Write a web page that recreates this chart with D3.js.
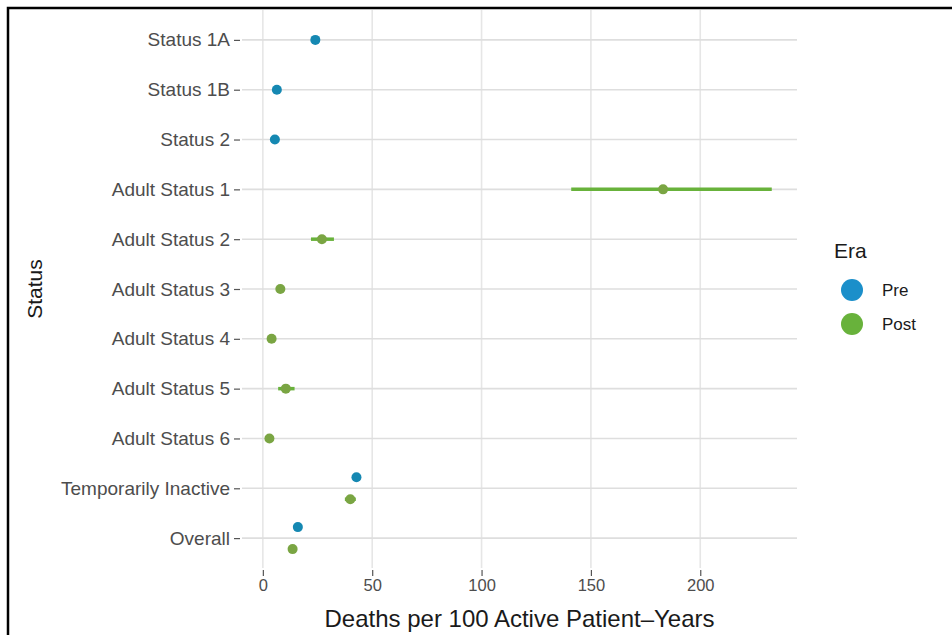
<!DOCTYPE html>
<html>
<head>
<meta charset="utf-8">
<script src="https://cdn.jsdelivr.net/npm/d3@7"></script>
<style>
  body { margin: 0; background: #fff; }
  text { font-family: "Liberation Sans", "DejaVu Sans", sans-serif; }
</style>
</head>
<body>
<svg id="chart" width="952" height="635"></svg>
<script>
// categories, top to bottom
var statuses = ["Status 1A", "Status 1B", "Status 2", "Adult Status 1", "Adult Status 2",
  "Adult Status 3", "Adult Status 4", "Adult Status 5", "Adult Status 6",
  "Temporarily Inactive", "Overall"];
var eras = ["Pre", "Post"];
var eraColors = ["#1b8fca", "#68b23b"];

// Pre era: status, rate, lower, upper
var preStatus = ["Status 1A", "Status 1B", "Status 2", "Temporarily Inactive", "Overall"];
var preRate   = [24, 6.4, 5.5, 42.8, 16];
var preLow    = [22.5, 5.5, 4.6, 41, 15.3];
var preHigh   = [25.5, 7.3, 6.4, 44.6, 16.7];

// Post era
var postStatus = ["Adult Status 1", "Adult Status 2", "Adult Status 3", "Adult Status 4",
  "Adult Status 5", "Adult Status 6", "Temporarily Inactive", "Overall"];
var postRate   = [183, 27, 8, 4, 10.5, 3, 40, 13.6];
var postLow    = [141, 22, 6.5, 3, 7, 2, 37.5, 12.8];
var postHigh   = [232.7, 32.5, 9.5, 5, 14.5, 4, 42.5, 14.4];

var xTicks = [0, 50, 100, 150, 200];

var rows = [];
preStatus.forEach(function(s, i) {
  rows.push({status: s, era: "Pre", rate: preRate[i], lo: preLow[i], hi: preHigh[i]});
});
postStatus.forEach(function(s, i) {
  rows.push({status: s, era: "Post", rate: postRate[i], lo: postLow[i], hi: postHigh[i]});
});

var svg = d3.select("#chart");

// frame around the figure
svg.append("path")
  .attr("d", "M8,640 L8,8 L960,8")
  .attr("fill", "none")
  .attr("stroke", "#000")
  .attr("stroke-width", 2.5);

var pLeft = 242, pRight = 797, pTop = 10, pBottom = 568;

var lo = d3.min(rows, function(d) { return d.lo; });
var hi = d3.max(rows, function(d) { return d.hi; });
var pad = (hi - lo) * 0.05;
var x = d3.scaleLinear().domain([lo - pad, hi + pad]).range([pLeft, pRight]);

var y = d3.scalePoint().domain(statuses).range([pTop, pBottom]).padding(0.6);
var dodge = 11;

var color = d3.scaleOrdinal().domain(eras).range(eraColors);

// gridlines
var g = svg.append("g");
g.selectAll(".vgrid").data(xTicks).enter().append("line")
  .attr("x1", function(d) { return x(d); })
  .attr("x2", function(d) { return x(d); })
  .attr("y1", pTop).attr("y2", pBottom)
  .attr("stroke", "#e6e6e6").attr("stroke-width", 1.6);
g.selectAll(".hgrid").data(statuses).enter().append("line")
  .attr("x1", pLeft).attr("x2", pRight)
  .attr("y1", function(d) { return y(d); })
  .attr("y2", function(d) { return y(d); })
  .attr("stroke", "#dedede").attr("stroke-width", 1.6);

// axes
var yAxis = svg.append("g")
  .attr("transform", "translate(" + (pLeft - 2) + ",0)")
  .call(d3.axisLeft(y).tickSize(6).tickPadding(4));
var xAxis = svg.append("g")
  .attr("transform", "translate(0," + (pBottom + 2) + ")")
  .call(d3.axisBottom(x).tickValues(xTicks).tickSize(6).tickPadding(3));
[xAxis, yAxis].forEach(function(a) {
  a.select(".domain").remove();
  a.selectAll(".tick line").attr("stroke", "#555").attr("stroke-width", 1.2);
  a.selectAll(".tick text").attr("fill", "#4d4d4d")
    .style("font-family", "'Liberation Sans', sans-serif").style("font-size", "19px");
});
xAxis.selectAll(".tick text").style("font-size", "16.5px");

// position with dodge when both eras present
function yPos(d) {
  var both = preStatus.indexOf(d.status) >= 0 && postStatus.indexOf(d.status) >= 0;
  if (!both) return y(d.status);
  return y(d.status) + (d.era === "Pre" ? -dodge : dodge);
}

svg.append("g").selectAll("line").data(rows).enter().append("line")
  .attr("x1", function(d) { return x(d.lo); })
  .attr("x2", function(d) { return x(d.hi); })
  .attr("y1", yPos).attr("y2", yPos)
  .attr("stroke", function(d) { return color(d.era); })
  .attr("stroke-width", 3.5);

svg.append("g").selectAll("circle").data(rows).enter().append("circle")
  .attr("cx", function(d) { return x(d.rate); })
  .attr("cy", yPos)
  .attr("r", 5)
  .attr("fill", function(d) { return d.era === "Pre" ? "#1588b2" : "#7aa543"; });

// axis titles
svg.append("text")
  .attr("x", (pLeft + pRight) / 2).attr("y", 627)
  .attr("text-anchor", "middle")
  .attr("fill", "#1a1a1a")
  .style("font-size", "24px")
  .text("Deaths per 100 Active Patient\u2013Years");

svg.append("text")
  .attr("transform", "translate(42," + ((pTop + pBottom) / 2) + ") rotate(-90)")
  .attr("text-anchor", "middle")
  .attr("fill", "#1a1a1a")
  .style("font-size", "21px")
  .text("Status");

// legend
var legend = svg.append("g").attr("transform", "translate(834,0)");
legend.append("text")
  .attr("x", 0).attr("y", 258)
  .attr("fill", "#1a1a1a")
  .style("font-size", "21px")
  .text("Era");
var items = legend.selectAll(".item").data(eras).enter().append("g")
  .attr("transform", function(d, i) { return "translate(0," + (290 + i * 34) + ")"; });
items.append("circle")
  .attr("cx", 18).attr("cy", 0).attr("r", 11)
  .attr("fill", function(d) { return color(d); });
items.append("text")
  .attr("x", 48).attr("y", 6)
  .attr("fill", "#1a1a1a")
  .style("font-size", "17px")
  .text(function(d) { return d; });
</script>
</body>
</html>
